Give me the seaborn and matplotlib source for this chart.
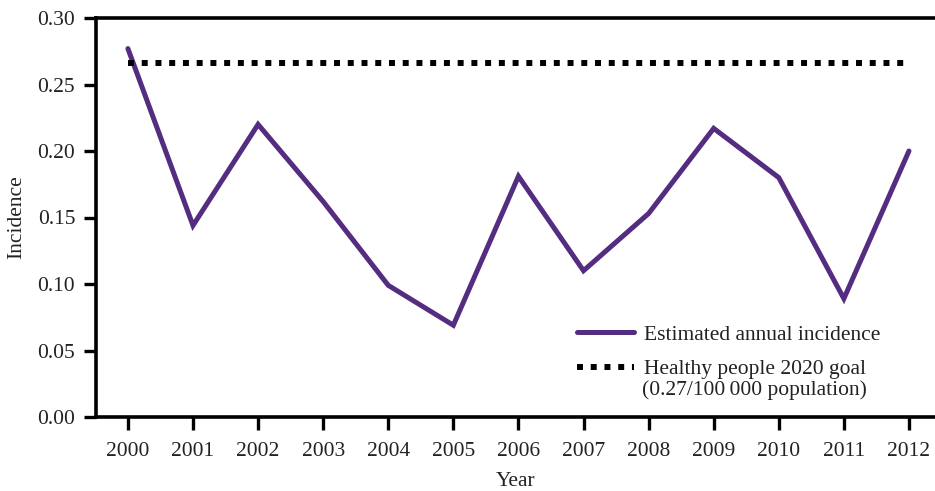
import matplotlib
matplotlib.use("Agg")
import matplotlib.pyplot as plt
import seaborn as sns
import pandas as pd

years = [2000, 2001, 2002, 2003, 2004, 2005, 2006, 2007, 2008, 2009, 2010, 2011, 2012]
incidence = [0.277, 0.144, 0.220, 0.162, 0.099, 0.069, 0.181, 0.110, 0.153, 0.217, 0.180, 0.089, 0.200]
goal = [0.266] * len(years)
series_names = ["Estimated annual incidence", "Healthy people 2020 goal"]
goal_note = "(0.27/100\u2009000 population)"
y_ticks = [0.00, 0.05, 0.10, 0.15, 0.20, 0.25, 0.30]

sns.set_style("ticks")
plt.rcParams['font.family'] = ['Liberation Serif', 'DejaVu Serif']

df = pd.DataFrame({"Year": years, "Incidence": incidence, "Goal": goal})

fig = plt.figure(figsize=(9.35, 4.91), dpi=100)
ax = fig.add_axes([96/935, 1-417/491, 1-96/935, (417-18)/491])

sns.lineplot(data=df, x="Year", y="Incidence", ax=ax, color="#542c80", linewidth=3.6,
             label=series_names[0], solid_joinstyle="miter")
sns.lineplot(data=df, x="Year", y="Goal", ax=ax, color="black", linewidth=4.3,
             linestyle=(0, (1, 1.3)), dash_capstyle="butt", label=series_names[1])

ax.set_xlim(1999.51, 2012.4)
ax.set_ylim(0, 0.30)
ax.set_xticks(years)
ax.set_xticklabels([str(y) for y in years])
ax.set_yticks(y_ticks)
ax.set_yticklabels([f"{v:.2f}" for v in y_ticks])

ax.spines["right"].set_visible(False)
for s in ["left", "top", "bottom"]:
    ax.spines[s].set_linewidth(2.6)
    ax.spines[s].set_color("black")
ax.tick_params(axis="both", direction="out", length=9, width=2.4, color="black",
               labelsize=15.5, labelcolor="#222222")
ax.tick_params(axis="x", pad=9)
ax.tick_params(axis="y", pad=6)
ax.set_xlabel("Year", fontsize=15.5, color="#222222", labelpad=8)
ax.set_ylabel("Incidence", fontsize=15.5, color="#222222", labelpad=8)

leg = ax.legend(loc="upper left", bbox_to_anchor=(0.573, 0.232), frameon=False,
                fontsize=15.5, handlelength=2.64, handletextpad=0.5, labelspacing=0.68,
                borderpad=0, borderaxespad=0)
for t in leg.get_texts():
    t.set_color("#222222")

ax.text((642 - 96) / 839, (417 - 390) / 399, goal_note, transform=ax.transAxes,
        fontsize=15.5, color="#222222", ha="left", va="center")

fig.savefig("out.png", dpi=100)
